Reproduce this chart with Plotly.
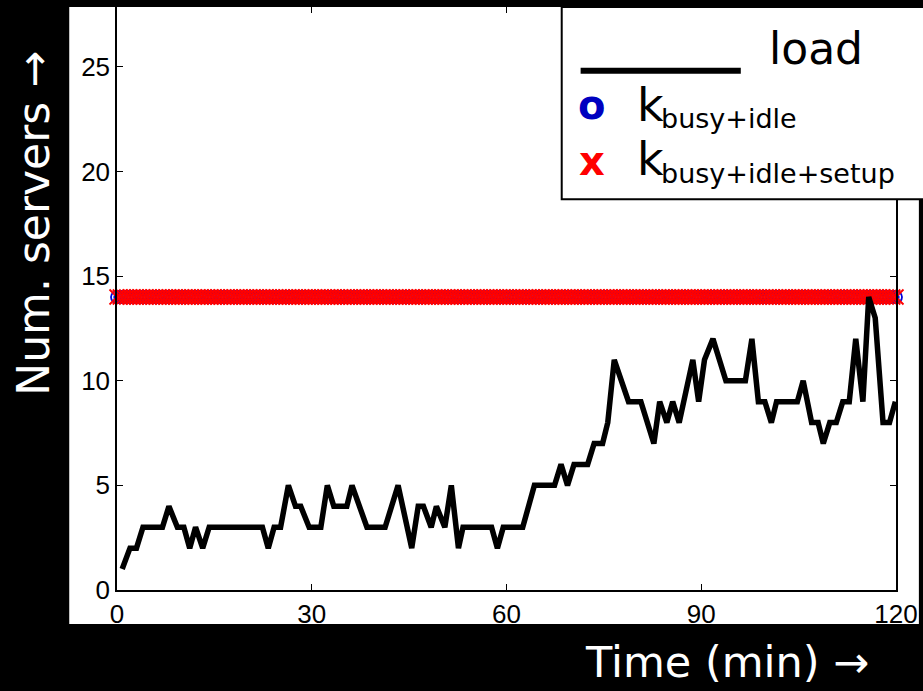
import plotly.graph_objects as go
import numpy as np

# ---- data ----
time_min = [0.8, 2, 3, 4, 7, 8, 9.3, 10.3, 11.2, 12.1, 13.2, 14.2, 22.4, 23.3, 24.2, 25.2,
            26.4, 27.5, 28.3, 29.6, 31.4, 32.4, 33.4, 35.4, 36.2, 38.5, 41.3, 43.3, 45.4,
            46.4, 47.2, 48.4, 49.2, 50.5, 51.5, 52.6, 53.3, 57.7, 58.6, 59.5, 62.5, 64.3,
            67.4, 68.4, 69.4, 70.4, 72.5, 73.5, 74.8, 75.6, 76.6, 78.8, 80.7, 82.7, 83.6,
            84.7, 85.6, 86.6, 88.7, 89.6, 90.5, 91.8, 93.8, 96.8, 97.8, 98.8, 99.8, 100.8,
            101.6, 104.8, 105.7, 107, 108, 108.8, 109.8, 110.8, 111.8, 112.8, 113.8, 114.9,
            115.8, 116.8, 118, 119, 119.9]
load_servers = [1, 2, 2, 3, 3, 4, 3, 3, 2, 3, 2, 3, 3, 2, 3, 3, 5, 4, 4, 3,
                3, 5, 4, 4, 5, 3, 3, 5, 2, 4, 4, 3, 4, 3, 5, 2, 3, 3, 2, 3,
                3, 5, 5, 6, 5, 6, 6, 7, 7, 8, 11, 9, 9, 7, 9, 8, 9, 8, 11, 9,
                11, 12, 10, 10, 12, 9, 9, 8, 9, 9, 10, 8, 8, 7, 8, 8, 9, 9, 12, 9,
                14, 13, 8, 8, 9]

k_times = list(np.arange(0, 120.01, 0.5))
k_busy_idle = [14] * len(k_times)
k_busy_idle_setup = [14] * len(k_times)

x_ticks = [0, 30, 60, 90, 120]
y_ticks = [0, 5, 10, 15, 20, 25]

# ---- geometry helpers (pixel -> paper) ----
W, H = 923, 691
L, R, T, B = 117, 23, 5, 101
PW, PH = W - L - R, H - T - B


def px(x):
    return (x - L) / PW


def py(y):
    return (H - B - y) / PH


TXT_FONT = "DejaVu Sans"

fig = go.Figure()
fig.add_trace(go.Scatter(
    x=k_times, y=k_busy_idle, mode="markers", cliponaxis=False,
    marker=dict(symbol="circle-open", size=12, color="#0000dd",
                line=dict(width=1.8, color="#0000dd")),
    showlegend=False, name="k busy+idle"))
fig.add_trace(go.Scatter(
    x=k_times, y=k_busy_idle_setup, mode="markers", cliponaxis=False,
    marker=dict(symbol="x-thin-open", size=15, color="#ff0000",
                line=dict(width=1.8, color="#ff0000")),
    showlegend=False, name="k busy+idle+setup"))
fig.add_trace(go.Scatter(
    x=time_min, y=load_servers, mode="lines",
    line=dict(color="black", width=5.5), showlegend=False, name="load"))

axis_common = dict(
    showline=True, linecolor="black", linewidth=1.5, mirror="ticks",
    ticks="inside", ticklen=6, tickwidth=1.2, tickcolor="black",
    showgrid=False, zeroline=False,
    tickfont=dict(family="Liberation Sans", size=26, color="black"),
)
fig.update_xaxes(range=[0, 120], tickvals=x_ticks, ticktext=[str(v) for v in x_ticks],
                 **axis_common)
fig.update_yaxes(range=[0, (H - B - T) / 21.0], tickvals=y_ticks,
                 ticktext=[str(v) for v in y_ticks], **axis_common)

shapes = [
    # white slide panel behind the axes
    dict(type="rect", xref="paper", yref="paper", x0=px(69), x1=px(923), y0=py(624), y1=py(5),
         fillcolor="white", line=dict(width=0), layer="below"),
    # legend box
    dict(type="rect", xref="paper", yref="paper", x0=px(564), x1=px(940), y0=py(198), y1=py(5),
         fillcolor="white", line=dict(width=2, color="black"), layer="above"),
    # legend line sample
    dict(type="line", xref="paper", yref="paper", x0=px(583), x1=px(744), y0=py(69), y1=py(69),
         line=dict(width=6, color="black"), layer="above"),
]

annotations = [
    dict(text="load", x=px(770), y=py(47), xanchor="left", yanchor="middle",
         font=dict(family=TXT_FONT, size=44, color="black")),
    dict(text="<b>o</b>", x=px(594), y=py(103), xanchor="center", yanchor="middle",
         font=dict(family=TXT_FONT, size=40, color="#0000c0")),
    dict(text="k", x=px(638), y=py(103), xanchor="left", yanchor="middle",
         font=dict(family=TXT_FONT, size=46, color="black")),
    dict(text="busy+idle", x=px(662), y=py(117), xanchor="left", yanchor="middle",
         font=dict(family=TXT_FONT, size=27, color="black")),
    dict(text="<b>x</b>", x=px(594), y=py(160), xanchor="center", yanchor="middle",
         font=dict(family=TXT_FONT, size=40, color="#ff0000")),
    dict(text="k", x=px(638), y=py(158), xanchor="left", yanchor="middle",
         font=dict(family=TXT_FONT, size=46, color="black")),
    dict(text="busy+idle+setup", x=px(662), y=py(172), xanchor="left", yanchor="middle",
         font=dict(family=TXT_FONT, size=27, color="black")),
    # axis titles
    dict(text="Num. servers \u2192", x=px(33), y=py(222), xanchor="center", yanchor="middle",
         textangle=-90, font=dict(family=TXT_FONT, size=44, color="white")),
    dict(text="Time (min) \u2192", x=px(730), y=py(662), xanchor="center", yanchor="middle",
         font=dict(family=TXT_FONT, size=43, color="white")),
]
for a in annotations:
    a.update(xref="paper", yref="paper", showarrow=False)

fig.update_layout(
    width=W, height=H, autosize=False,
    margin=dict(l=L, r=R, t=T, b=B, pad=0),
    paper_bgcolor="black", plot_bgcolor="white",
    shapes=shapes, annotations=annotations, showlegend=False,
)

fig.write_html("out.html")
